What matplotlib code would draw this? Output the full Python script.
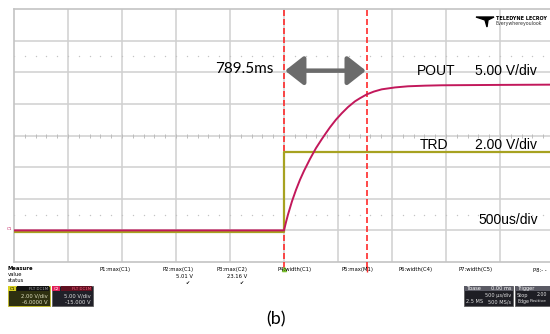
import matplotlib
matplotlib.use("Agg")
import matplotlib.pyplot as plt
from matplotlib.patches import Rectangle, Polygon
import numpy as np

# time in ms (0.5 ms/div), trigger at 0
pout_t = [-2.6, 0.0, 0.0185, 0.037, 0.074, 0.111, 0.148, 0.185, 0.241, 0.296,
          0.349, 0.389, 0.426, 0.481, 0.534, 0.593, 0.657, 0.704, 0.766, 0.833,
          0.905, 1.028, 1.148, 1.306, 1.46, 2.0, 2.6]
pout_v = [0.0, 0.0, 1.3, 2.5, 4.6, 6.4, 8.0, 9.4, 11.3, 13.0,
          14.4, 15.4, 16.3, 17.5, 18.5, 19.5, 20.4, 20.9, 21.5, 21.95,
          22.3, 22.6, 22.78, 22.88, 22.94, 23.0, 23.05]
trd_t = [-2.6, 0.0, 0.0, 2.6]
trd_v = [-0.1, -0.1, 4.95, 4.95]
cursors = [0.0, 0.768]

meas_labels = ["P1:max(C1)", "P2:max(C1)", "P3:max(C2)", "P4:width(C1)",
               "P5:max(M1)", "P6:width(C4)", "P7:width(C5)", "P8:- -"]
meas_x = [115, 178, 232, 295, 357, 416, 476, 540]
meas_vals = {1: "5.01 V", 2: "23.16 V"}

W, H = 550, 334
fig = plt.figure(figsize=(W / 100, H / 100), dpi=100)
fig.patch.set_facecolor("white")


def fx(x):
    return x / W


def fy(y):
    return 1 - y / H


def ftext(x, y, s, **kw):
    fig.text(fx(x), fy(y), s, **kw)


# grid area 14..554 px horizontally, 9..262 px vertically
ax = fig.add_axes([fx(14), fy(262), (554 - 14) / W, (262 - 9) / H])
ax.set_xlim(-2.5, 2.5)
ax.set_ylim(-4, 4)
ax.set_xticks([])
ax.set_yticks([])
for s in ax.spines.values():
    s.set_color("#c4c4c4")
    s.set_linewidth(1.2)
gcol = "#d0d0d0"
for xv in np.arange(-2.0, 2.5, 0.5):
    ax.axvline(xv, color=gcol, lw=1.1, zorder=1)
for yv in range(-3, 4):
    ax.axhline(yv, color=gcol, lw=1.1, zorder=1)
minor = np.arange(-2.5, 2.55, 0.1)
ax.plot(minor, np.zeros_like(minor), ls="none", marker="|", ms=3.5, mew=0.7,
        color="#bdbdbd", zorder=1)
for yv in (2.5, -2.5):
    ax.plot(minor, np.full_like(minor, yv), ls="none", marker="o", ms=1.0,
            color="#c4c4c4", mec="none", zorder=1)

# channel axes: C1 2 V/div offset -6 V, C2 5 V/div offset -15 V
ax1 = ax.twinx()
ax1.set_ylim(-2, 14)
ax2 = ax.twinx()
ax2.set_ylim(-5, 35)
for a in (ax1, ax2):
    a.set_yticks([])
    for s in a.spines.values():
        s.set_visible(False)

ax1.plot(trd_t, trd_v, color="#a7a221", lw=1.6, zorder=3)
ax2.plot(pout_t, pout_v, color="#c2185b", lw=1.4, zorder=4)

for c in cursors:
    ax.plot([c, c], [-4.2, 4], color="#ff2a2a", lw=1.2, ls=(0, (3.6, 1.8)),
            clip_on=False, zorder=5)
ax.plot([cursors[0]], [-4.22], marker="^", ms=3, color="#7cc030", clip_on=False, zorder=6)
ax.plot([cursors[1]], [-4.22], marker="|", ms=4, color="#ff2a2a", clip_on=False, zorder=6)

arrow_y = (135.5 - 70.7) / 31.6
ax.annotate("", xy=(cursors[1] - 0.01, arrow_y), xytext=(cursors[0] + 0.01, arrow_y),
            arrowprops=dict(arrowstyle="<|-|>,head_length=0.7,head_width=0.55",
                            mutation_scale=16, lw=3.2, color="#6b6b6b",
                            shrinkA=0, shrinkB=0), zorder=6)

# annotations
ftext(273, 69, "789.5ms", fontsize=11, family="Lato", ha="right", va="center")
ftext(417, 71, "POUT", fontsize=10, family="Liberation Sans", va="center")
ftext(475, 71, "5.00 V/div", fontsize=10, family="Liberation Sans", va="center")
ftext(420, 145, "TRD", fontsize=10, family="Liberation Sans", va="center")
ftext(475, 145, "2.00 V/div", fontsize=10, family="Liberation Sans", va="center")
ftext(478, 220, "500us/div", fontsize=10, family="Liberation Sans", va="center")
ftext(9, 229, "C1", fontsize=3, color="#c2185b", ha="center", va="center")

# logo
fig.patches.append(Polygon([[fx(476), fy(17)], [fx(494), fy(17)], [fx(488), fy(20)],
                            [fx(487), fy(27)], [fx(485), fy(20)]],
                           closed=True, transform=fig.transFigure, color="black"))
ftext(496, 19, "TELEDYNE LECROY", fontsize=3.5, weight="bold", va="center")
ftext(496, 24, "Everywhereyoulook", fontsize=3.4, va="center", color="#333333")

# measurement row
ftext(8, 269, "Measure", fontsize=3.8, weight="bold", va="center")
ftext(8, 275, "value", fontsize=3.8, va="center")
ftext(8, 281, "status", fontsize=3.8, va="center")
for i, (lab, x) in enumerate(zip(meas_labels, meas_x)):
    ftext(x, 270, lab, fontsize=3.8, ha="center", va="center")
    if i in meas_vals:
        ftext(x + 15, 276, meas_vals[i], fontsize=3.8, ha="right", va="center")
        ftext(x + 12, 283, "\u2714", fontsize=3.5, ha="right", va="center")


def box(x0, y0, x1, y1, fc, ec):
    fig.patches.append(Rectangle((fx(x0), fy(y1)), fx(x1 - x0), (y1 - y0) / H,
                                 transform=fig.transFigure, fc=fc, ec=ec, lw=0.6))


# channel descriptors
box(8, 286, 50, 306, "#2e3010", "#c8c028")
box(8, 286, 16, 291, "#d8d020", "none")
box(17, 286, 49, 291, "#141414", "none")
ftext(12, 288.5, "C1", fontsize=3, ha="center", va="center", color="black")
ftext(48, 288.5, "FLT DC1M", fontsize=2.8, ha="right", va="center", color="#aaaaaa")
ftext(48, 296, "2.00 V/div", fontsize=3.8, ha="right", va="center", color="#e0e0c0")
ftext(48, 302, "-6.0000 V", fontsize=3.8, ha="right", va="center", color="#e0e0c0")

box(52, 286, 93, 306, "#202028", "#606060")
box(52, 286, 60, 291, "#e0205a", "none")
box(61, 286, 92, 291, "#601020", "none")
ftext(56, 288.5, "C2", fontsize=3, ha="center", va="center", color="white")
ftext(91, 288.5, "FLT DC1M", fontsize=2.8, ha="right", va="center", color="#ff6080")
ftext(91, 296, "5.00 V/div", fontsize=3.8, ha="right", va="center", color="#e0e0e0")
ftext(91, 302, "-15.000 V", fontsize=3.8, ha="right", va="center", color="#e0e0e0")

# timebase / trigger
box(464, 286, 513, 306, "#1e1e24", "#606060")
box(464, 286, 513, 291, "#5a5a64", "none")
ftext(466, 288.5, "Tbase", fontsize=3.6, va="center", color="white")
ftext(511, 288.5, "0.00 ms", fontsize=3.6, ha="right", va="center", color="white")
ftext(511, 295, "500 \u00b5s/div", fontsize=3.6, ha="right", va="center", color="#e0e0e0")
ftext(466, 301.5, "2.5 MS", fontsize=3.6, va="center", color="#e0e0e0")
ftext(511, 301.5, "500 MS/s", fontsize=3.6, ha="right", va="center", color="#e0e0e0")

box(515, 286, 552, 306, "#1e1e24", "#606060")
box(515, 286, 552, 291, "#5a5a64", "none")
ftext(517, 288.5, "Trigger", fontsize=3.6, va="center", color="white")
ftext(517, 295, "Stop", fontsize=3.6, va="center", color="#e0e0e0")
ftext(537, 295, "2.00", fontsize=3.4, va="center", color="#e0e0e0")
ftext(517, 301.5, "Edge", fontsize=3.4, va="center", color="#e0e0e0")
ftext(530, 301.5, "Positive", fontsize=3.2, va="center", color="#e0e0e0")

ftext(276, 319, "(b)", fontsize=13, family="Lato", ha="center", va="center")

fig.savefig("out.png", dpi=100)
